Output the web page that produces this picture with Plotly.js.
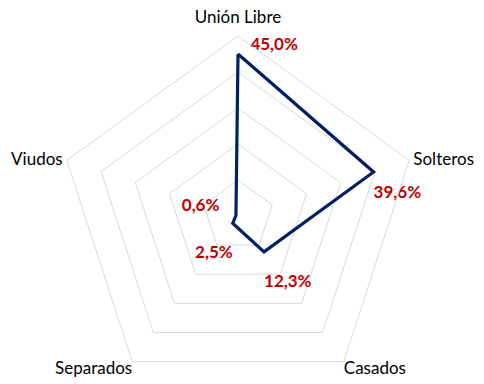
<!DOCTYPE html>
<html><head><meta charset="utf-8">
<script src="https://cdn.plot.ly/plotly-3.0.1.min.js"></script>
<style>html,body{margin:0;padding:0;overflow:hidden;background:#fff}</style>
</head><body><div id="chart"></div>
<script>
const categories = ["Unión Libre", "Solteros", "Casados", "Separados", "Viudos"];
const values = [45.0, 39.6, 12.3, 2.5, 0.6];
const valueLabels = ["\u00A0\u00A0\u00A045,0%", "<br><br>39,6%", "<br>12,3%", "<br>2,5%", "0,6%\u00A0\u00A0\u00A0\u00A0"];
const labelPositions = ["top right", "middle right", "bottom right", "bottom left", "top left"];
const categoryPositions = ["top center", "middle right", "bottom right", "bottom left", "middle left"];
const categoryPads = [13, 5, 0, 0, 5];
const radialTicks = [0, 10, 20, 30, 40, 50];

const FONT = "Lato, 'Liberation Sans', sans-serif";
const rMax = radialTicks[radialTicks.length - 1];

const trace = {
  type: "scatterpolar",
  r: values.concat([values[0]]),
  theta: categories.concat([categories[0]]),
  mode: "lines+text",
  line: {color: "#002060", width: 3.2},
  text: valueLabels.concat([""]),
  textposition: labelPositions.concat(["top right"]),
  textfont: {family: FONT, size: 17, color: "#C00000", weight: "bold"},
  cliponaxis: false,
  hoverinfo: "none"
};

const categoryTrace = {
  type: "scatterpolar",
  r: categories.map(() => rMax),
  theta: categories,
  mode: "markers+text",
  marker: {size: categoryPads, color: "rgba(0,0,0,0)", line: {width: 0}},
  text: categories,
  textposition: categoryPositions,
  textfont: {family: FONT, size: 17, color: "#000"},
  cliponaxis: false,
  hoverinfo: "none"
};

const layout = {
  width: 484, height: 420,
  margin: {l: 58, r: 66, t: 36, b: 24},
  paper_bgcolor: "#fff",
  showlegend: false,
  font: {family: FONT, size: 17, color: "#000"},
  polar: {
    domain: {x: [0, 1], y: [0, 1]},
    gridshape: "linear",
    bgcolor: "rgba(0,0,0,0)",
    radialaxis: {
      range: [0, rMax], tickvals: radialTicks, showticklabels: false, ticks: "",
      showline: false, gridcolor: "#D9D9D9", gridwidth: 1
    },
    angularaxis: {
      rotation: 90, direction: "clockwise", showgrid: false,
      showline: true, linecolor: "#D9D9D9", linewidth: 1, ticks: "",
      showticklabels: false
    }
  }
};
Plotly.newPlot("chart", [trace, categoryTrace], layout, {staticPlot: true});
</script></body></html>
